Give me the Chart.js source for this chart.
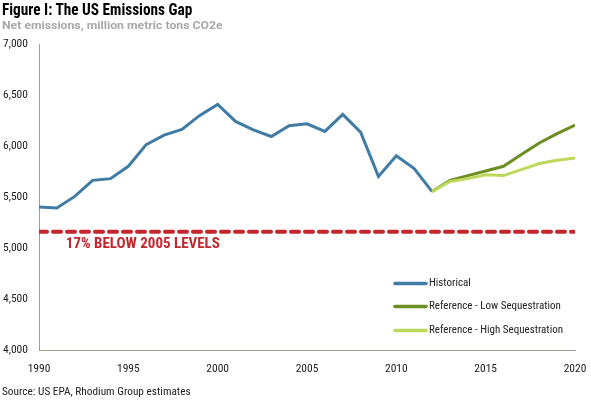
<!DOCTYPE html>
<html>
<head>
<meta charset="utf-8">
<script src="https://cdn.jsdelivr.net/npm/chart.js@4.4.1/dist/chart.umd.min.js"></script>
<style>
    html, body { margin: 0; padding: 0; background: #fff; }
    body { width: 591px; height: 404px; position: relative; overflow: hidden;
           font-family: "Roboto Condensed", "Roboto", sans-serif; }
    .txt { position: absolute; left: 2px; white-space: nowrap; transform-origin: 0 0; display: inline-block; }
    #title { top: 0; font-size: 16px; font-weight: bold; color: #000; }
    #subtitle { top: 18px; font-family: "Roboto", sans-serif; font-size: 11.5px; font-weight: bold; color: #a8a8a8; }
    #source { top: 385px; font-size: 11px; color: #222; }
    #wrap { position: absolute; left: 0; top: 0; width: 591px; height: 404px; }
</style>
</head>
<body>
<div id="wrap"><canvas id="chart" width="591" height="404"></canvas></div>
<div id="title" class="txt" data-w="190">Figure I: The US Emissions Gap</div>
<div id="subtitle" class="txt" data-w="220">Net emissions, million metric tons CO2e</div>
<div id="source" class="txt" data-w="189">Source: US EPA, Rhodium Group estimates</div>
<script>
(function () {
    'use strict';

    // ── 資料 ─────────────────────────────────────────────
    var histYears = [1990, 1991, 1992, 1993, 1994, 1995, 1996, 1997, 1998, 1999, 2000, 2001,
                     2002, 2003, 2004, 2005, 2006, 2007, 2008, 2009, 2010, 2011, 2012];
    var historical = [5402, 5392, 5506, 5663, 5680, 5801, 6014, 6106, 6162, 6300, 6408, 6241,
                      6159, 6093, 6198, 6218, 6143, 6310, 6136, 5702, 5905, 5778, 5553];

    var projYears = [2012, 2013, 2014, 2015, 2016, 2017, 2018, 2019, 2020];
    var lowSeq    = [5553, 5663, 5710, 5755, 5801, 5916, 6030, 6122, 6204];
    var highSeq   = [5553, 5653, 5680, 5719, 5710, 5769, 5828, 5860, 5883];

    var targetYears = [1990, 2020];
    var targetValue = 5160;
    var targetLabel = '17% BELOW 2005 LEVELS';

    var seriesNames = ['Historical', 'Reference - Low Sequestration', 'Reference - High Sequestration'];
    var seriesColors = ['#417ca5', '#6b8e23', '#bcd95c'];

    var yTicks = [4000, 4500, 5000, 5500, 6000, 6500, 7000];
    var xTicks = [1990, 1995, 2000, 2005, 2010, 2015, 2020];

    var FONT = '"Roboto Condensed", "Roboto", sans-serif';

    function pts(xs, ys) {
        return xs.map(function (x, i) { return { x: x, y: ys[i] }; });
    }

    function fmt(v) {
        return String(v).replace(/\B(?=(\d{3})+(?!\d))/g, ',');
    }

    // 標題文字寬度對齊原圖
    Array.prototype.forEach.call(document.querySelectorAll('.txt'), function (el) {
        var w = +el.getAttribute('data-w');
        if (w && el.offsetWidth) el.style.transform = 'scaleX(' + (w / el.offsetWidth) + ')';
    });

    // ── 自訂標註與圖例 ─────────────────────────────────────
    var annotate = {
        id: 'annotate',
        afterDatasetsDraw: function (chart) {
            var ctx = chart.ctx;
            var xs = chart.scales.x, ys = chart.scales.y;

            ctx.save();
            ctx.fillStyle = '#c4262e';
            ctx.font = 'bold 15px ' + FONT;
            ctx.textBaseline = 'middle';
            ctx.textAlign = 'left';
            ctx.fillText(targetLabel, xs.getPixelForValue(1991.5), ys.getPixelForValue(targetValue) + 13);

            // 圖例
            var lx = 395, ly = [283.5, 306.5, 330.5];
            ctx.font = '11px ' + FONT;
            ctx.fillStyle = '#222';
            for (var i = 0; i < seriesNames.length; i++) {
                ctx.strokeStyle = seriesColors[i];
                ctx.lineWidth = 3.5;
                ctx.lineCap = 'round';
                ctx.beginPath();
                ctx.moveTo(lx, ly[i]);
                ctx.lineTo(lx + 31, ly[i]);
                ctx.stroke();
                ctx.fillText(seriesNames[i], lx + 34, ly[i]);
            }
            ctx.restore();
        }
    };

    new Chart(document.getElementById('chart').getContext('2d'), {
        type: 'line',
        data: {
            datasets: [{
                label: 'target',
                data: pts(targetYears, [targetValue, targetValue]),
                borderColor: '#c4262e',
                borderWidth: 4,
                borderDash: [8, 6],
                borderCapStyle: 'round',
                pointRadius: 0
            }, {
                label: seriesNames[2],
                data: pts(projYears, highSeq),
                borderColor: seriesColors[2],
                borderWidth: 3,
                pointRadius: 0
            }, {
                label: seriesNames[1],
                data: pts(projYears, lowSeq),
                borderColor: seriesColors[1],
                borderWidth: 3,
                pointRadius: 0
            }, {
                label: seriesNames[0],
                data: pts(histYears, historical),
                borderColor: seriesColors[0],
                borderWidth: 3,
                pointRadius: 0
            }]
        },
        options: {
            responsive: false,
            animation: false,
            layout: { padding: { left: 3, right: 16, top: 44, bottom: 0 } },
            plugins: {
                legend: { display: false },
                tooltip: { enabled: false }
            },
            scales: {
                x: {
                    type: 'linear',
                    min: 1990, max: 2020,
                    afterBuildTicks: function (s) { s.ticks = xTicks.map(function (v) { return { value: v }; }); },
                    afterFit: function (s) { s.height = 54; s.paddingLeft = 0; s.paddingRight = 0; },
                    grid: { display: false, drawTicks: false },
                    border: { color: '#a59c8c', width: 1 },
                    ticks: {
                        padding: 12,
                        maxRotation: 0,
                        autoSkip: false,
                        font: { family: FONT, size: 11.5 },
                        color: '#222',
                        callback: function (v) { return String(v); }
                    }
                },
                y: {
                    min: 4000, max: 7000,
                    afterBuildTicks: function (s) { s.ticks = yTicks.map(function (v) { return { value: v }; }); },
                    afterFit: function (s) { s.width = 36; },
                    grid: { display: false, drawTicks: false },
                    border: { color: '#a59c8c', width: 1 },
                    ticks: {
                        crossAlign: 'far',
                        padding: 6,
                        font: { family: FONT, size: 11.5 },
                        color: '#222',
                        callback: function (v) { return fmt(v); }
                    }
                }
            }
        },
        plugins: [annotate]
    });
})();
</script>
</body>
</html>
